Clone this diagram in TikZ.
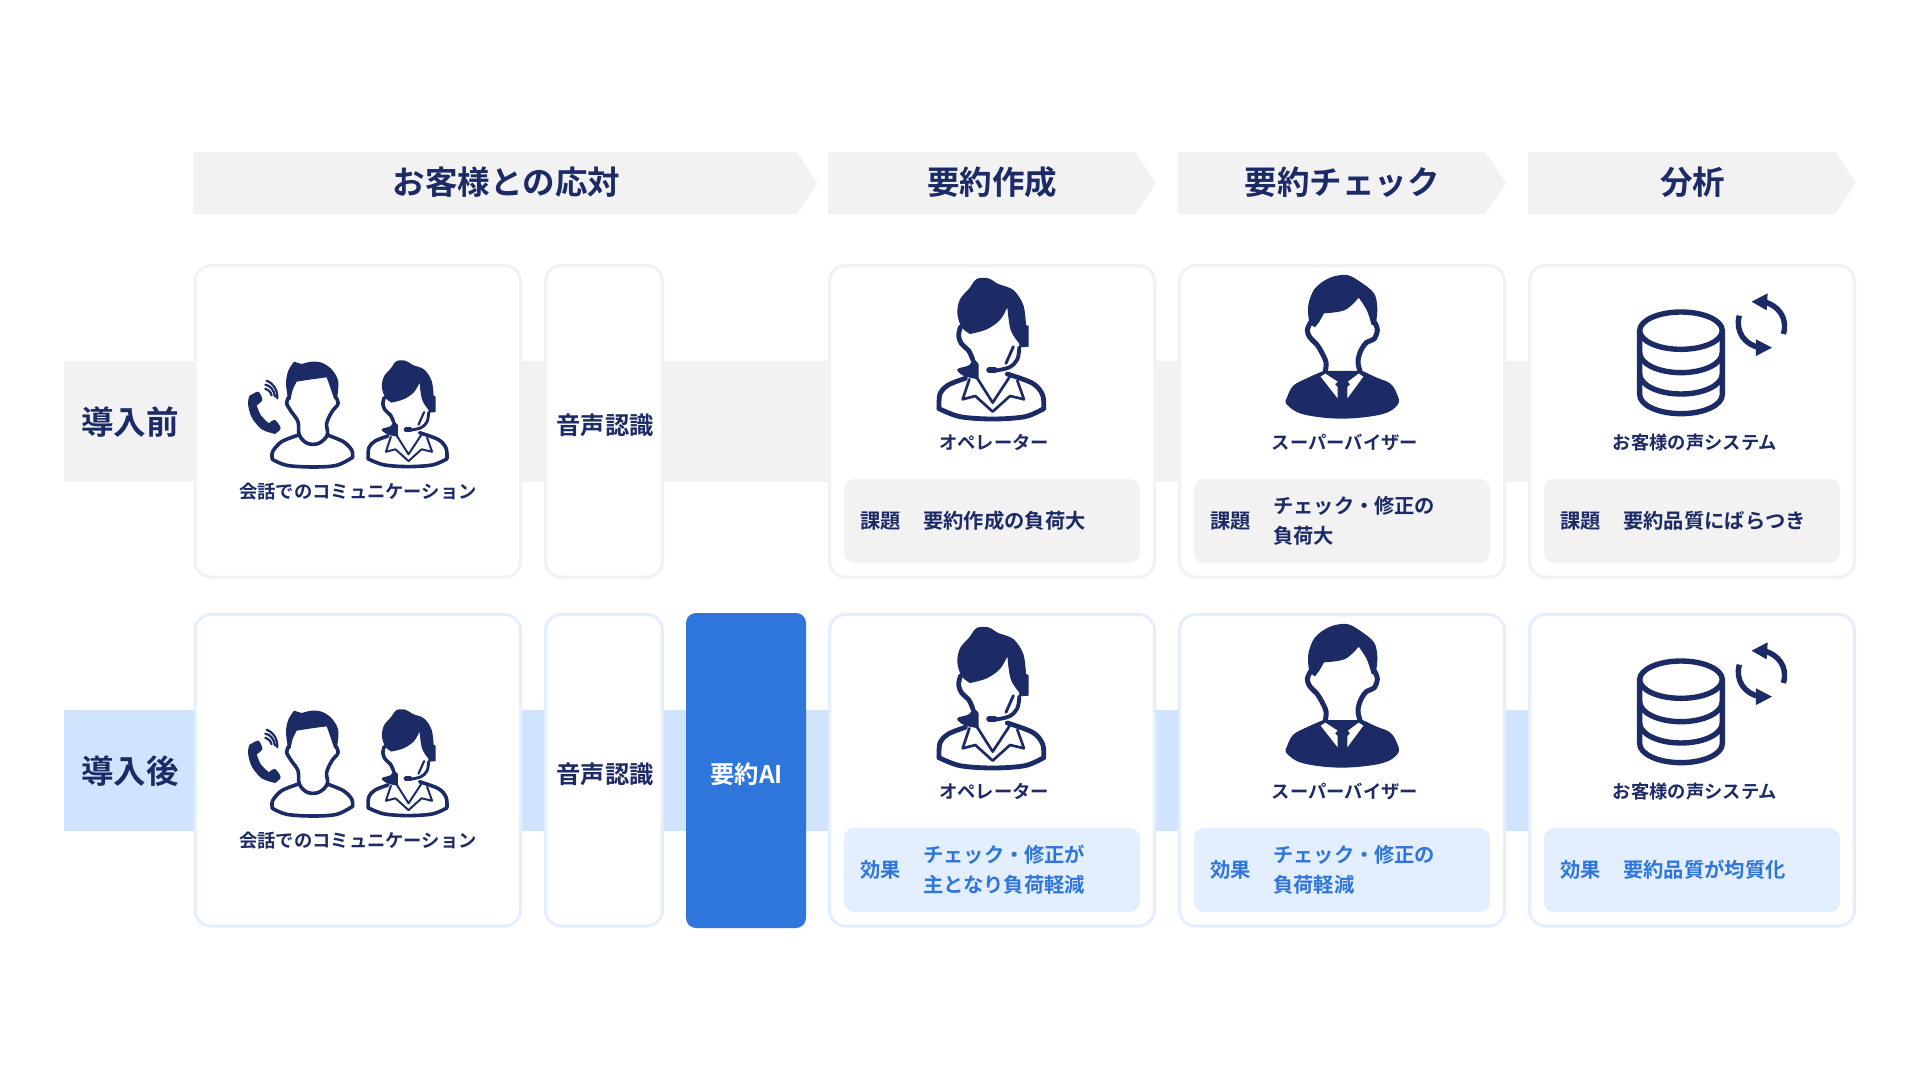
\documentclass[tikz,border=0pt]{standalone}
\usepackage{fontspec}
\setmainfont{Noto Sans CJK JP}[BoldFont={Noto Sans CJK JP Bold}]
\definecolor{navy}{HTML}{1C2A66}
\definecolor{aiblue}{HTML}{2F76DC}
\definecolor{lband}{HTML}{D0E4FF}
\definecolor{lbox}{HTML}{E3EFFF}
\definecolor{gbox}{HTML}{F2F2F2}
\definecolor{lborder}{HTML}{E3EEFF}
\newcommand{\fs}[1]{\fontsize{#1}{#1}\selectfont\bfseries}
\newcommand{\bx}[6]{% name, style, x1,y1,x2,y2
  \pgfmathsetmacro\bxw{#5-#3}\pgfmathsetmacro\bxh{#6-#4}%
  \pgfmathsetmacro\bxx{(#3+#5)/2}\pgfmathsetmacro\bxy{(#4+#6)/2}%
  \node[#2,minimum width=\bxw pt,minimum height=\bxh pt] (#1) at (\bxx,\bxy) {};}
\tikzset{
  x=1pt,y=-1pt,
  fillband/.style={fill=#1,draw=none,inner sep=0pt,outer sep=0pt},
  cardbox/.style={fill=white,draw=#1,line width=3pt,rounded corners=16pt,inner sep=0pt,outer sep=0pt},
  innerbox/.style={fill=#1,draw=none,rounded corners=10pt,inner sep=0pt,outer sep=0pt},
  hdrtext/.style={text=navy,font=\fs{32.5},inner sep=0pt},
  midtext/.style={text=navy,font=\fs{24.3},inner sep=0pt},
  roletext/.style={text=navy,font=\fs{18.3},inner sep=0pt},
  notetext/.style={text=#1,font=\fs{20.3},inner sep=0pt,anchor=west,align=left},
  opw/.initial=4.8,
  operator/.pic={
    \begin{scope}[navy,line join=round,line cap=round]
    \fill plot[smooth,tension=.55] coordinates {(150,192)(125,172)(112,130)(120,88)(148,55)(170,27)(205,25)(235,42)(280,60)(310,105)(318,165)}
      -- (326,168) -- (326,230) -- (300,232) -- (296,218)
      -- plot[smooth,tension=.6] coordinates {(296,218)(272,180)(262,112)}
      -- plot[smooth,tension=.6] coordinates {(262,112)(240,150)(200,178)(150,192)} -- cycle;
    \draw[line width=\pgfkeysvalueof{/tikz/opw}pt] plot[smooth,tension=.6] coordinates {(121,172)(116,198)(125,222)(146,242)(158,268)};
    \fill plot[smooth,tension=.6] coordinates {(158,262)(148,285)(112,298)(132,318)(176,328)} -- (176,282) -- cycle;
    \draw[line width=.8*\pgfkeysvalueof{/tikz/opw}pt] plot[smooth,tension=.6] coordinates {(298,232)(292,268)(268,292)(225,302)};
    \draw[line width=1.3*\pgfkeysvalueof{/tikz/opw}pt] (208,300) -- (224,300);
    \draw[line width=.6*\pgfkeysvalueof{/tikz/opw}pt] (280,230) -- (258,280);
    \draw[line width=\pgfkeysvalueof{/tikz/opw}pt] plot[smooth,tension=.55] coordinates {(136,325)(85,345)(60,372)(57,416)};
    \draw[line width=\pgfkeysvalueof{/tikz/opw}pt] plot[smooth,tension=.55] coordinates {(57,416)(120,440)(218,447)(315,440)(371,416)};
    \draw[line width=\pgfkeysvalueof{/tikz/opw}pt] plot[smooth,tension=.55] coordinates {(371,416)(368,375)(338,340)(262,312)};
    \draw[line width=.55*\pgfkeysvalueof{/tikz/opw}pt] (148,328) -- (128,388) -- (166,378) -- (218,425) -- (270,378) -- (312,388) -- (292,332);
    \draw[line width=.55*\pgfkeysvalueof{/tikz/opw}pt] (170,322) -- (218,398) -- (268,322);
    \end{scope}
  },
  supervisor/.pic={
    \begin{scope}[navy,line join=round,line cap=round]
    \fill plot[smooth,tension=.55] coordinates {(135,187)(118,170)(115,120)(135,70)(180,38)(230,30)(270,50)(312,85)(322,130)(317,182)}
      -- (305,180)
      -- plot[smooth,tension=.6] coordinates {(305,180)(290,135)(266,98)}
      -- plot[smooth,tension=.6] coordinates {(266,98)(225,135)(162,145)}
      -- (148,170) -- cycle;
    \draw[line width=5pt] plot[smooth,tension=.6] coordinates {(122,172)(112,195)(120,218)(140,238)(155,262)(168,292)(166,318)};
    \draw[line width=5pt] plot[smooth,tension=.6] coordinates {(314,172)(322,195)(312,222)(290,232)(272,258)(264,290)(270,318)};
    \fill plot[smooth,tension=.6] coordinates {(160,318)(110,340)(70,362)(52,395)(50,418)(100,448)(215,461)(335,448)(384,418)(380,385)(360,355)(320,338)(278,318)} -- cycle;
    \fill[white] (152,335) -- (166,326) -- (203,350) -- (195,358) -- (203,366) -- (203,400) -- cycle;
    \fill[white] (280,335) -- (266,326) -- (234,350) -- (240,358) -- (232,366) -- (232,400) -- cycle;
    \end{scope}
  },
  caller/.pic={
    \begin{scope}[navy,line join=round,line cap=round]
    \fill plot[smooth,tension=.55] coordinates {(205,182)(198,130)(205,92)(222,65)} -- (245,72)
      -- plot[smooth,tension=.55] coordinates {(245,72)(275,65)(305,68)(335,88)(355,125)(350,182)}
      -- (342,176)
      -- plot[smooth,tension=.6] coordinates {(342,176)(330,140)(320,112)}
      -- plot[smooth,tension=.6] coordinates {(320,112)(275,118)(230,125)}
      -- plot[smooth,tension=.6] coordinates {(230,125)(218,150)(212,178)} -- cycle;
    \draw[line width=3.6pt] plot[smooth,tension=.6] coordinates {(206,172)(200,190)(214,215)(234,245)(238,285)(262,310)(296,310)(322,285)(320,250)(336,215)(354,192)(348,172)};
    \draw[line width=3.6pt] plot[smooth,tension=.55] coordinates {(236,285)(185,305)(158,335)(157,358)};
    \draw[line width=3.6pt] plot[smooth,tension=.55] coordinates {(157,358)(200,376)(278,381)(350,376)(398,352)};
    \draw[line width=3.6pt] plot[smooth,tension=.55] coordinates {(398,352)(395,330)(370,305)(322,285)};
    \fill plot[smooth,tension=.5] coordinates {(88,168)(115,155)(127,180)(110,196)} 
      -- plot[smooth,tension=.5] coordinates {(110,196)(122,225)(146,250)}
      -- plot[smooth,tension=.5] coordinates {(146,250)(165,240)(182,265)(165,282)}
      -- plot[smooth,tension=.5] coordinates {(165,282)(125,268)(95,232)(84,192)(88,168)} -- cycle;
    \draw[line width=2.2pt] (136,146) .. controls (145,148) and (152,156) .. (155,166);
    \draw[line width=2.2pt] (136,134) .. controls (150,136) and (163,150) .. (165,170);
    \draw[line width=2.2pt] (140,122) .. controls (158,128) and (173,148) .. (172,175);
    \end{scope}
  },
  database/.pic={
    \begin{scope}[navy,line width=5.4pt]
    \draw (543,242) ellipse [x radius=124,y radius=56];
    \draw (419,242) -- (419,434) arc[start angle=180,end angle=360,x radius=124,y radius=-57] -- (667,242);
    \draw (419,308) arc[start angle=180,end angle=360,x radius=124,y radius=-60];
    \draw (419,372) arc[start angle=180,end angle=360,x radius=124,y radius=-60];
    \fill (755,155) -- (803,130) -- (800,181) -- cycle;
    \draw (850,252) .. controls (865,205) and (835,165) .. (790,155);
    \fill (768,268) -- (816,293) -- (768,318) -- cycle;
    \draw (718,197) .. controls (705,245) and (735,285) .. (780,293);
    \end{scope}
  }
}
\newcommand{\stagerow}[5]{% prefix, dy, border colour, inner colour, note colour
  \begin{scope}[yshift=-#2pt]
  \bx{#1custA}{cardbox=#3}{195}{265.5}{520.5}{577}
  \bx{#1voice}{cardbox=#3}{545.5}{265.5}{662.5}{577}
  \bx{#1sum}{cardbox=#3}{829.5}{265.5}{1154.5}{577}
  \bx{#1chk}{cardbox=#3}{1179.5}{265.5}{1504.5}{577}
  \bx{#1ana}{cardbox=#3}{1529.5}{265.5}{1854.5}{577}
  \bx{#1sumi}{innerbox=#4}{844}{479}{1140}{563}
  \bx{#1chki}{innerbox=#4}{1194}{479}{1490}{563}
  \bx{#1anai}{innerbox=#4}{1544}{479}{1840}{563}
  \pic[scale=.3333] at (220,340) {caller};
  \pic[scale=.251,opw=3.6] at (353.8,354.4) {operator};
  \pic[scale=.3333] at (920,270) {operator};
  \pic[scale=.3333] at (1270,265) {supervisor};
  \pic[scale=.3333] at (1500,250) {database};
  \node[roletext] (#1lblA) at (358,491.5) {会話でのコミュニケーション};
  \node[midtext] (#1lblV) at (605,425) {音声認識};
  \node[roletext] (#1lblO) at (994,442.5) {オペレーター};
  \node[roletext] (#1lblS) at (1345,442.5) {スーパーバイザー};
  \node[roletext] (#1lblD) at (1695,442.5) {お客様の声システム};
  \end{scope}
}
\begin{document}
\begin{tikzpicture}
\useasboundingbox (0,0) rectangle (1920,1080);
\fill[white] (0,0) rectangle (1920,1080);
% bands
\bx{bandA}{fillband=gbox}{64}{361}{1530}{481.5}
\bx{bandB}{fillband=lband}{64}{710}{1530}{831}
% chevrons
\fill[gbox] (193,152) -- (797,152) -- (817.5,183) -- (797,214) -- (193,214) -- cycle;
\fill[gbox] (828,152) -- (1135,152) -- (1156,183) -- (1135,214) -- (828,214) -- cycle;
\fill[gbox] (1178,152) -- (1485,152) -- (1506,183) -- (1485,214) -- (1178,214) -- cycle;
\fill[gbox] (1528,152) -- (1835,152) -- (1856,183) -- (1835,214) -- (1528,214) -- cycle;
\node[hdrtext] (h1) at (506.5,182) {お客様との応対};
\node[hdrtext] (h2) at (992,182) {要約作成};
\node[hdrtext] (h3) at (1342,182) {要約チェック};
\node[hdrtext] (h4) at (1692.5,182) {分析};
\node[hdrtext] (rowA) at (130,422.5) {導入前};
\node[hdrtext] (rowB) at (130,771) {導入後};
\stagerow{a}{0}{gbox}{gbox}{navy}
\stagerow{b}{349}{lborder}{lbox}{aiblue}
% AI
\bx{ai}{innerbox=aiblue}{686}{613}{806}{928}
\node[midtext,text=white] (ailbl) at (746.5,774) {要約AI};
% notes row 1
\node[notetext=navy] (n1a) at (860,521) {課題};
\node[notetext=navy] (n1b) at (923,521) {要約作成の負荷大};
\node[notetext=navy] (n2a) at (1210,521) {課題};
\node[notetext=navy] (n2b) at (1273,506) {チェック・修正の};
\node[notetext=navy] (n2c) at (1273,536) {負荷大};
\node[notetext=navy] (n3a) at (1560,521) {課題};
\node[notetext=navy] (n3b) at (1623,521) {要約品質にばらつき};
% notes row 2
\node[notetext=aiblue] (m1a) at (860,870) {効果};
\node[notetext=aiblue] (m1b) at (923,855) {チェック・修正が};
\node[notetext=aiblue] (m1c) at (923,885) {主となり負荷軽減};
\node[notetext=aiblue] (m2a) at (1210,870) {効果};
\node[notetext=aiblue] (m2b) at (1273,855) {チェック・修正の};
\node[notetext=aiblue] (m2c) at (1273,885) {負荷軽減};
\node[notetext=aiblue] (m3a) at (1560,870) {効果};
\node[notetext=aiblue] (m3b) at (1623,870) {要約品質が均質化};
\end{tikzpicture}
\end{document}
